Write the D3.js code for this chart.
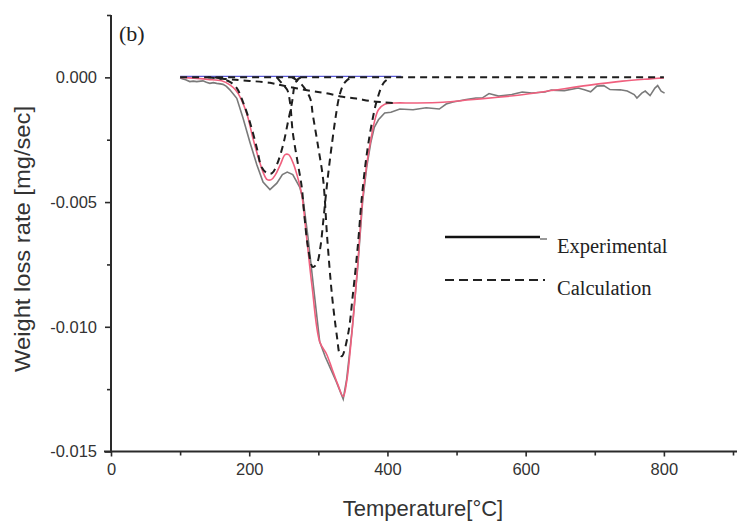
<!DOCTYPE html>
<html>
<head>
<meta charset="utf-8">
<script src="https://cdn.jsdelivr.net/npm/d3@7"></script>
<style>
  html, body { margin: 0; padding: 0; background: #fff; }
  svg { display: block; }
  .tick text { font-family: "Liberation Sans", Arial, sans-serif; }
</style>
</head>
<body>
<svg id="chart" width="737" height="526"></svg>
<script>
// Temperature (°C) and weight loss rate (mg/sec) samples
const experimental = [
  [100,-0.00002],[103,-0.00006],[108,-0.0001],[114,-0.00017],[119,-0.00015],[124,-0.00017],
  [133,-0.00014],[138,-0.0002],[143,-0.00024],[148,-0.00021],[153,-0.00024],[158,-0.00026],
  [162,-0.00028],[167,-0.00036],[172,-0.0005],[182,-0.00084],[191,-0.00163],[201,-0.0026],
  [211,-0.0035],[220,-0.0042],[230,-0.0045],[240,-0.00424],[248,-0.0039],[255,-0.0038],
  [263,-0.0039],[273,-0.0044],[278,-0.0049],[285,-0.0064],[293,-0.0084],[302,-0.0106],
  [310,-0.0112],[318,-0.0117],[326,-0.0122],[336,-0.0129],[341,-0.0121],[349,-0.0101],
  [357,-0.0076],[364,-0.005],[370,-0.0036],[376,-0.0026],[381,-0.002],[387,-0.0017],
  [396,-0.00143],[405,-0.0014],[418,-0.00127],[437,-0.0013],[456,-0.00122],[475,-0.00127],
  [485,-0.00107],[495,-0.00099],[514,-0.00089],[528,-0.00083],[537,-0.00083],[547,-0.00065],
  [561,-0.00075],[580,-0.00069],[595,-0.00059],[609,-0.00063],[628,-0.00059],[637,-0.00051],
  [656,-0.00053],[676,-0.00043],[685,-0.0005],[694,-0.00058],[703,-0.00035],[713,-0.00033],
  [722,-0.00049],[737,-0.0005],[747,-0.00055],[757,-0.00069],[761,-0.00083],[768,-0.00063],
  [773,-0.00055],[780,-0.00073],[787,-0.00043],[791,-0.00033],[796,-0.00055],[801,-0.00063]
];

const fitted = [
  [100,0],[120,-0.00003],[140,-0.00008],[160,-0.00014],[172,-0.0003],[180,-0.0005],
  [187,-0.0008],[197,-0.0015],[205,-0.0024],[213,-0.0032],[220,-0.0038],[226,-0.0041],
  [232,-0.0041],[238,-0.0039],[245,-0.0035],[252,-0.0031],[257,-0.0031],[263,-0.0034],
  [269,-0.0039],[276,-0.0047],[283,-0.0064],[291,-0.0084],[302,-0.0106],[312,-0.0111],
  [320,-0.0117],[328,-0.0123],[336,-0.0128],[341,-0.0122],[349,-0.0101],[357,-0.0075],
  [364,-0.0049],[370,-0.0035],[376,-0.0025],[381,-0.0018],[387,-0.0013],[396,-0.00108],
  [410,-0.00103],[440,-0.00103],[480,-0.001],[520,-0.0009],[560,-0.0008],[600,-0.00068],
  [640,-0.00052],[690,-0.00032],[740,-0.00015],[780,-0.00006],[800,-0.00002]
];

const peak1 = [
  [150,0],[162,-0.00008],[172,-0.00018],[182,-0.00043],[191,-0.00099],[201,-0.0018],
  [211,-0.00283],[218,-0.0036],[226,-0.00384],[233,-0.00384],[240,-0.0035],[249,-0.00271],
  [256,-0.0018],[262,-0.00099],[266,-0.0003],[271,-0.00006],[278,0]
];

const peak2 = [
  [240,0],[249,-0.0003],[255,-0.0005],[259,-0.001],[263,-0.0022],[270,-0.0034],[276,-0.0044],
  [279,-0.0053],[285,-0.0068],[292,-0.0076],[298,-0.00745],[303,-0.0068],[307,-0.0058],
  [311,-0.0047],[315,-0.0037],[320,-0.0026],[325,-0.0016],[330,-0.0008],[336,-0.0003],
  [342,-0.0001],[350,0]
];

const peak3 = [
  [262,0],[274,-0.00023],[288,-0.00083],[292,-0.0015],[300,-0.00283],[307,-0.0041],
  [313,-0.0065],[320,-0.0088],[327,-0.0104],[331,-0.0111],[334,-0.01118],[343,-0.0103],
  [350,-0.0087],[357,-0.0068],[363,-0.0048],[370,-0.0031],[377,-0.0019],[385,-0.0009],
  [395,-0.0002],[405,0]
];

const broad = [
  [140,0],[180,-0.0001],[230,-0.00022],[250,-0.00034],[290,-0.00055],[310,-0.00063],
  [335,-0.00078],[355,-0.00085],[375,-0.00095],[395,-0.001],[415,-0.00104]
];

const baseline = [[100,0],[800,0]];
const blueBaseline = [[100,0],[420,0]];

const xMajorTicks = [0, 200, 400, 600, 800];
const xMinorTicks = [100, 300, 500, 700, 900];
const yMajorTicks = [0, -0.005, -0.010, -0.015];
const yMinorTicks = [0.0025, -0.0025, -0.0075, -0.0125];

const svg = d3.select("#chart");

const x = d3.scaleLinear().domain([0, 900]).range([111, 733]);
const y = d3.scaleLinear().domain([-0.015, 0.0025]).range([451.5, 15]);

const axisColor = "#2a2a2a";
const fmtY = d => d3.format(".3f")(d).replace("\u2212", "-");

// Axes
const xAxisG = svg.append("g").attr("transform", `translate(0,${y(-0.015)})`);
xAxisG.call(d3.axisBottom(x).tickValues(xMajorTicks).tickSize(5).tickPadding(7)
  .tickFormat(d3.format("d")));
xAxisG.append("g").call(d3.axisBottom(x).tickValues(xMinorTicks).tickSize(4).tickFormat(""));
xAxisG.selectAll(".domain").remove();
xAxisG.append("line").attr("x1", 104).attr("x2", 737).attr("y1", 0).attr("y2", 0)
  .attr("stroke", axisColor).attr("stroke-width", 2);

const yAxisG = svg.append("g").attr("transform", `translate(${x(0)},0)`);
yAxisG.call(d3.axisLeft(y).tickValues(yMajorTicks).tickSize(6).tickPadding(8)
  .tickFormat(fmtY));
yAxisG.append("g").call(d3.axisLeft(y).tickValues(yMinorTicks).tickSize(4).tickFormat(""));
yAxisG.selectAll(".domain").remove();
yAxisG.append("line").attr("x1", 0).attr("x2", 0).attr("y1", y(0.0025)).attr("y2", y(-0.015) + 1)
  .attr("stroke", axisColor).attr("stroke-width", 2);

svg.selectAll(".tick line").attr("stroke", axisColor).attr("stroke-width", 1.6);
svg.selectAll(".tick text").attr("fill", "#333").attr("font-size", 16.5);

// Axis titles
svg.append("text")
  .attr("x", 423).attr("y", 516)
  .attr("text-anchor", "middle")
  .attr("font-family", "Liberation Sans, Arial, sans-serif")
  .attr("font-size", 22).attr("fill", "#333")
  .text("Temperature[°C]");

svg.append("text")
  .attr("transform", "translate(30,239) rotate(-90)")
  .attr("text-anchor", "middle")
  .attr("font-family", "Liberation Sans, Arial, sans-serif")
  .attr("font-size", 22).attr("fill", "#333")
  .attr("textLength", 266).attr("lengthAdjust", "spacingAndGlyphs")
  .text("Weight loss rate [mg/sec]");

svg.append("text")
  .attr("x", 119).attr("y", 41)
  .attr("font-family", "Liberation Serif, Times New Roman, serif")
  .attr("font-size", 22).attr("fill", "#222")
  .text("(b)");

// Curves
const smooth = d3.line().x(d => x(d[0])).y(d => y(d[1])).curve(d3.curveCatmullRom.alpha(0.5));
const jagged = d3.line().x(d => x(d[0])).y(d => y(d[1]));

svg.append("path").datum(blueBaseline).attr("d", jagged)
  .attr("fill", "none").attr("stroke", "#5a5ad8").attr("stroke-width", 1.2)
  .attr("transform", "translate(0,-1)");

svg.append("path").datum(experimental).attr("d", jagged)
  .attr("fill", "none").attr("stroke", "#7a7a7a").attr("stroke-width", 1.6);

svg.append("path").datum(fitted).attr("d", smooth)
  .attr("fill", "none").attr("stroke", "#f0607e").attr("stroke-width", 1.6);

const dashStyle = sel => sel.attr("fill", "none").attr("stroke", "#1e1e1e")
  .attr("stroke-width", 2).attr("stroke-dasharray", "7,5");

[baseline, peak1, peak2, peak3, broad].forEach(series => {
  svg.append("path").datum(series).attr("d", series === baseline ? jagged : smooth).call(dashStyle);
});

// Legend
const legend = svg.append("g");
legend.append("line").attr("x1", 445).attr("x2", 540).attr("y1", 237).attr("y2", 237)
  .attr("stroke", "#111").attr("stroke-width", 2.5);
legend.append("line").attr("x1", 540).attr("x2", 547).attr("y1", 239).attr("y2", 239)
  .attr("stroke", "#999").attr("stroke-width", 2);
legend.append("text").attr("x", 557).attr("y", 253)
  .attr("font-family", "Liberation Serif, Times New Roman, serif")
  .attr("font-size", 20.5).attr("fill", "#222").text("Experimental");
legend.append("line").attr("x1", 445).attr("x2", 545).attr("y1", 280).attr("y2", 280)
  .attr("stroke", "#222").attr("stroke-width", 1.8).attr("stroke-dasharray", "9,5");
legend.append("text").attr("x", 557).attr("y", 295)
  .attr("font-family", "Liberation Serif, Times New Roman, serif")
  .attr("font-size", 20.5).attr("fill", "#222").text("Calculation");
</script>
</body>
</html>
